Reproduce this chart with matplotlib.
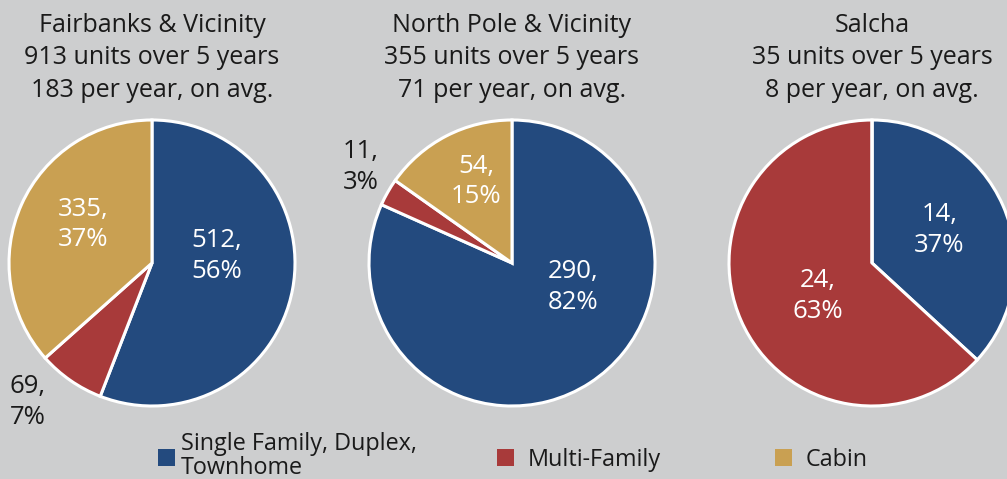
import matplotlib
matplotlib.use("Agg")
import matplotlib.pyplot as plt
from matplotlib.patches import Rectangle

plt.rcParams['font.family'] = ['Open Sans', 'DejaVu Sans']

# ---- data ----
categories = ["Single Family, Duplex,\nTownhome", "Multi-Family", "Cabin"]
regions = ["Fairbanks & Vicinity", "North Pole & Vicinity", "Salcha"]
totals = [913, 355, 35]
per_year = [183, 71, 8]
fairbanks = [512, 69, 335]
north_pole = [290, 11, 54]
salcha = [14, 24, 0]
pct_fairbanks = [56, 7, 37]
pct_north_pole = [82, 3, 15]
pct_salcha = [37, 63, 0]

# ---- style ----
colors = ["#234a7e", "#a83a3a", "#c9a052"]
bg = "#cdcecf"
txt = "#1a1a1a"
W, H = 1007, 479
R = 143
centers_px = [(152, 263), (512, 263), (872, 263)]
# label positions in data units (pie radius = 1), and colors
label_pos = [
    [(0.45, 0.05, 'w'), (-0.87, -0.97, 'd'), (-0.48, 0.27, 'w')],
    [(0.43, -0.17, 'w'), (-1.06, 0.67, 'd'), (-0.25, 0.57, 'w')],
    [(0.47, 0.23, 'w'), (-0.38, -0.23, 'w'), None],
]

fig = plt.figure(figsize=(W / 100, H / 100), dpi=100)
fig.patch.set_facecolor(bg)

all_vals = [fairbanks, north_pole, salcha]
all_pcts = [pct_fairbanks, pct_north_pole, pct_salcha]

for i, (cx, cy) in enumerate(centers_px):
    ax = fig.add_axes([(cx - R) / W, (H - cy - R) / H, 2 * R / W, 2 * R / H])
    ax.set_facecolor(bg)
    vals = all_vals[i]
    ax.pie(vals, colors=colors, startangle=90, counterclock=False, radius=1,
           wedgeprops=dict(edgecolor="white", linewidth=2.2))
    ax.set_xlim(-1, 1)
    ax.set_ylim(-1, 1)
    ax.set_aspect('equal')
    ax.axis('off')
    for j, lp in enumerate(label_pos[i]):
        if lp is None or vals[j] == 0:
            continue
        x, y, c = lp
        ax.text(x, y, f"{vals[j]},\n{all_pcts[i][j]}%", ha='center', va='center',
                color='white' if c == 'w' else txt, fontsize=18.5,
                linespacing=1.3, clip_on=False)
    # title
    fig.text(cx / W, 1 - 58 / H,
             f"{regions[i]}\n{totals[i]} units over 5 years\n{per_year[i]} per year, on avg.",
             ha='center', va='center', fontsize=18, color=txt, linespacing=1.37)

# legend (manual)
leg_sq = [158, 497, 775]
leg_tx = [181, 528, 806]
sq = 17
for k in range(3):
    fig.add_artist(Rectangle((leg_sq[k] / W, (H - 457 - sq / 2) / H), sq / W, sq / H,
                             transform=fig.transFigure, facecolor=colors[k],
                             edgecolor='none'))
    ty = 456 if k == 0 else 460
    fig.text(leg_tx[k] / W, 1 - ty / H, categories[k], ha='left', va='center',
             fontsize=16.8, color=txt, linespacing=0.95)

fig.savefig("out.png", dpi=100, facecolor=bg)
